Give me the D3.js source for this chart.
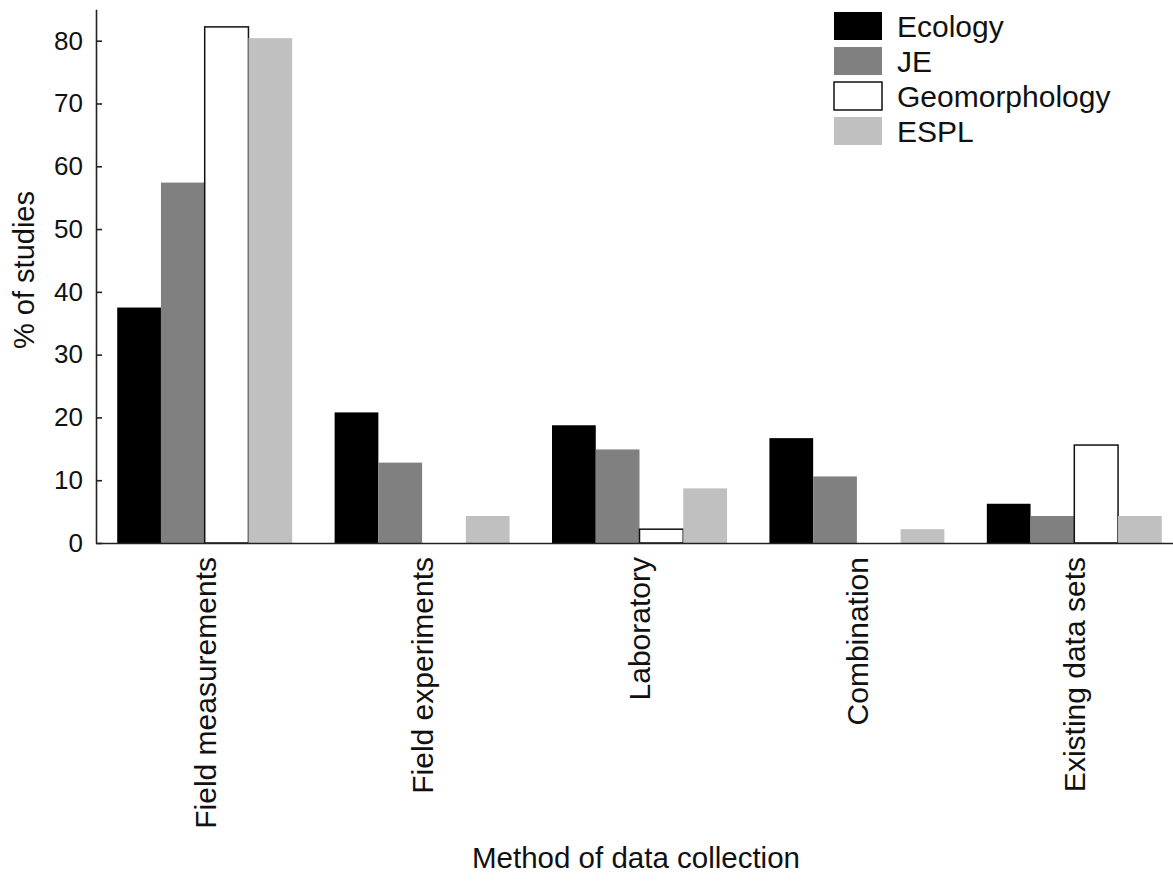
<!DOCTYPE html>
<html>
<head>
<meta charset="utf-8">
<script src="https://cdn.jsdelivr.net/npm/d3@7"></script>
<style>
  body { margin: 0; background: #fff; }
  text { font-family: "Liberation Sans", Arial, sans-serif; fill: #111; }
</style>
</head>
<body>
<div id="viz"></div>
<script>
// data (% of studies per journal)
var categories = ["Field measurements", "Field experiments", "Laboratory", "Combination", "Existing data sets"];
var journals = ["Ecology", "JE", "Geomorphology", "ESPL"];
var ecology = [37.5, 20.8, 18.75, 16.7, 6.25];
var je = [57.4, 12.8, 14.9, 10.6, 4.3];
var geomorphology = [82.2, 0, 2.2, 0, 15.6];
var espl = [80.4, 4.3, 8.7, 2.2, 4.3];
var yTicks = [0, 10, 20, 30, 40, 50, 60, 70, 80];

var series = [ecology, je, geomorphology, espl];
var fills = ["#000000", "#808080", "#ffffff", "#c0c0c0"];
var strokes = ["none", "none", "#111", "none"];

var W = 1173, H = 881;
var axisX = 96, baseY = 543, topY = 9.3;

var svg = d3.select("#viz").append("svg")
    .attr("width", W)
    .attr("height", H);

var x = d3.scaleBand()
    .domain(categories)
    .range([axisX, axisX + 5 * 217.4])
    .paddingInner(0)
    .paddingOuter(0);

var xInner = d3.scaleBand()
    .domain(journals)
    .range([0, x.bandwidth()])
    .paddingOuter(0.485)
    .paddingInner(0);

var y = d3.scaleLinear()
    .domain([0, 85])
    .range([baseY, topY]);

// bars
var rows = [];
categories.forEach(function(c, ci) {
    journals.forEach(function(j, ji) {
        rows.push({ cat: c, journal: j, ji: ji, value: series[ji][ci] });
    });
});

svg.append("g").selectAll("rect")
    .data(rows)
    .enter().append("rect")
        .attr("x", function(d) { return x(d.cat) + xInner(d.journal); })
        .attr("y", function(d) { return y(d.value); })
        .attr("width", xInner.bandwidth())
        .attr("height", function(d) { return y(0) - y(d.value); })
        .attr("fill", function(d) { return fills[d.ji]; })
        .attr("stroke", function(d) { return strokes[d.ji]; })
        .attr("stroke-width", 1.5);

// y axis
var yAxis = d3.axisLeft(y)
    .tickValues(yTicks)
    .tickSize(-6)
    .tickPadding(13)
    .tickSizeOuter(0);

var gy = svg.append("g")
    .attr("transform", "translate(" + axisX + ",0)")
    .call(yAxis);
gy.select(".domain").attr("stroke", "#222").attr("stroke-width", 1.6);
gy.selectAll(".tick line").attr("stroke", "#222").attr("stroke-width", 1.6);
gy.selectAll(".tick text")
    .attr("font-size", 26)
    .attr("font-family", "'Liberation Sans', Arial, sans-serif")
    .attr("fill", "#111");

// x axis
var gx = svg.append("g")
    .attr("transform", "translate(0," + baseY + ")")
    .call(d3.axisBottom(x).tickSize(0).tickSizeOuter(0).tickFormat(""));
gx.select(".domain").attr("stroke", "#222").attr("stroke-width", 1.6);

// category labels, rotated
svg.append("g").selectAll("text")
    .data(categories)
    .enter().append("text")
        .attr("transform", function(d) {
            return "translate(" + (x(d) + x.bandwidth() / 2) + "," + 557 + ") rotate(-90)";
        })
        .attr("text-anchor", "end")
        .attr("dy", "0.36em")
        .attr("font-size", 30)
        .text(function(d) { return d; });

// axis titles
svg.append("text")
    .attr("transform", "translate(34,270) rotate(-90)")
    .attr("text-anchor", "middle")
    .attr("font-size", 29)
    .text("% of studies");

svg.append("text")
    .attr("x", 636)
    .attr("y", 868)
    .attr("text-anchor", "middle")
    .attr("font-size", 29.5)
    .text("Method of data collection");

// legend
var legend = svg.append("g").attr("transform", "translate(834,12)");
var items = legend.selectAll("g")
    .data(journals)
    .enter().append("g")
        .attr("transform", function(d, i) { return "translate(0," + (i * 35) + ")"; });

items.append("rect")
    .attr("width", 48)
    .attr("height", 28)
    .attr("fill", function(d, i) { return fills[i]; })
    .attr("stroke", function(d, i) { return strokes[i]; })
    .attr("stroke-width", 1.5);

items.append("text")
    .attr("x", 63)
    .attr("y", 14)
    .attr("dy", "0.36em")
    .attr("font-size", 30)
    .text(function(d) { return d; });
</script>
</body>
</html>
